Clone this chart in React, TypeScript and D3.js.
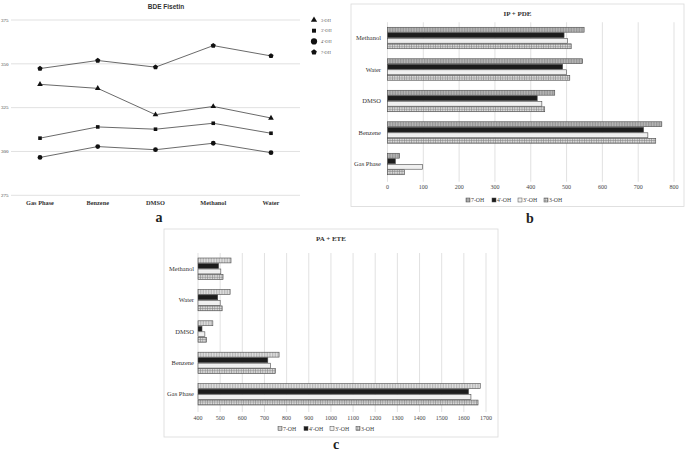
import React from "react";
import { scaleLinear, scalePoint, scaleBand, line, symbol, symbolTriangle, symbolSquare, symbolCircle } from "d3";

// panel a: BDE Fisetin
const bdeSolvents = ["Gas Phase", "Benzene", "DMSO", "Methanol", "Water"];
const bdeTicks = [275, 300, 325, 350, 375];
const bde3OH = [338.3, 336.0, 321.0, 325.7, 319.1];
const bde3pOH = [307.6, 314.0, 312.7, 316.1, 310.4];
const bde4pOH = [296.6, 302.8, 301.0, 304.7, 299.3];
const bde7OH = [347.3, 351.9, 348.1, 360.4, 354.5];

// panels b and c: bar charts
const barCats = ["Methanol", "Water", "DMSO", "Benzene", "Gas Phase"];
const barKeys = ["7-OH", "4'-OH", "3'-OH", "3-OH"];
const ipPde7OH = [549, 545, 467, 766, 34];
const ipPde4pOH = [493, 489, 418, 715, 22];
const ipPde3pOH = [503, 500, 431, 727, 98];
const ipPde3OH = [513, 509, 439, 749, 47];
const ipTicks = [0, 100, 200, 300, 400, 500, 600, 700, 800];

const paEte7OH = [549, 545, 467, 766, 1674];
const paEte4pOH = [493, 489, 418, 715, 1621];
const paEte3pOH = [503, 500, 431, 727, 1632];
const paEte3OH = [513, 509, 439, 749, 1664];
const paTicks = [400, 500, 600, 700, 800, 900, 1000, 1100, 1200, 1300, 1400, 1500, 1600, 1700];

const serif = "'Liberation Serif', 'DejaVu Serif', serif";
const sans = "'Liberation Sans', Arial, sans-serif";
const gridColor = "#d9d9d9";

const pentagon = (cx: number, cy: number, r: number) => {
  const pts: string[] = [];
  for (let i = 0; i < 5; i++) {
    const a = -Math.PI / 2 + (i * 2 * Math.PI) / 5;
    pts.push(`${cx + r * Math.cos(a)},${cy + r * Math.sin(a)}`);
  }
  return pts.join(" ");
};

const Marker = ({ kind, x, y, s = 1 }: any) => {
  if (kind === "pent") return <polygon points={pentagon(x, y, 2.7 * s)} fill="#111" />;
  const t = kind === "tri" ? symbolTriangle : kind === "sq" ? symbolSquare : symbolCircle;
  const size = kind === "tri" ? 14 : kind === "sq" ? 13 : 18;
  return <path d={symbol(t, size * s * s)() as string} transform={`translate(${x},${y})`} fill="#111" />;
};

const PanelA = () => {
  const x = scalePoint<string>().domain(bdeSolvents).range([40, 271]);
  const y = scaleLinear().domain([275, 375]).range([195.3, 20]);
  const series = [
    { key: "3-OH", vals: bde3OH, kind: "tri" },
    { key: "3'-OH", vals: bde3pOH, kind: "sq" },
    { key: "4'-OH", vals: bde4pOH, kind: "circ" },
    { key: "7-OH", vals: bde7OH, kind: "pent" },
  ];
  const ln = line<number>().x((_, i) => x(bdeSolvents[i]) as number).y((d) => y(d));
  return (
    <g>
      <text x={166} y={9} textAnchor="middle" fontFamily={sans} fontWeight="bold" fontSize={6.5} fill="#333">BDE Fisetin</text>
      {bdeTicks.map((t) => (
        <g key={t}>
          <line x1={11} x2={300} y1={y(t)} y2={y(t)} stroke={gridColor} strokeWidth={0.8} />
          <text x={8.5} y={y(t) + 1.8} textAnchor="end" fontFamily={serif} fontSize={5} fill="#444">{t}</text>
        </g>
      ))}
      {bdeSolvents.map((c) => (
        <text key={c} x={x(c)} y={204.5} textAnchor="middle" fontFamily={serif} fontWeight="bold" fontSize={6.3} fill="#333">{c}</text>
      ))}
      {series.map((s) => (
        <g key={s.key}>
          <path d={ln(s.vals) as string} fill="none" stroke="#444" strokeWidth={0.8} />
          {s.vals.map((v, i) => (
            <Marker key={i} kind={s.kind} x={x(bdeSolvents[i])} y={y(v)} />
          ))}
        </g>
      ))}
      {series.map((s, i) => (
        <g key={s.key}>
          <Marker kind={s.kind} x={314} y={20 + i * 10.7} s={s.kind === "circ" ? 1.3 : 1.1} />
          <text x={321} y={21.5 + i * 10.7} fontFamily={serif} fontSize={4.3} fill="#555">{s.key}</text>
        </g>
      ))}
      <text x={159} y={222} textAnchor="middle" fontFamily={serif} fontWeight="bold" fontSize={14} fill="#222">a</text>
    </g>
  );
};

const fills = (light: boolean) => [
  light ? "url(#p7light)" : "url(#p7dark)",
  "#1c1c1c",
  "url(#pdots)",
  "url(#pcheck)",
];

const BarPanel = ({ box, title, series, ticks, domain, xRange, yRange, labelX, tickY, legendY, legendX, letter, letterPos, light }: any) => {
  const x = scaleLinear().domain(domain).range(xRange);
  const y0 = scaleBand<string>().domain(barCats).range(yRange).paddingInner(0.3).paddingOuter(0.15);
  const y1 = scaleBand<string>().domain(barKeys).range([0, y0.bandwidth()]);
  const f = fills(light);
  const gridTop = yRange[0];
  const gridBot = yRange[1] + 2;
  return (
    <g>
      <rect x={box[0]} y={box[1]} width={box[2] - box[0]} height={box[3] - box[1]} fill="#fff" stroke={gridColor} strokeWidth={0.8} />
      <text x={(box[0] + box[2]) / 2} y={box[1] + 12} textAnchor="middle" fontFamily={serif} fontWeight="bold" fontSize={7} fill="#333">{title}</text>
      {ticks.map((t: number) => (
        <g key={t}>
          <line x1={x(t)} x2={x(t)} y1={gridTop} y2={gridBot} stroke={gridColor} strokeWidth={0.8} />
          <text x={x(t)} y={tickY} textAnchor="middle" fontFamily={serif} fontSize={6} fill="#444">{t}</text>
        </g>
      ))}
      {barCats.map((c, ci) => (
        <g key={c}>
          <text x={labelX} y={(y0(c) as number) + y0.bandwidth() / 2 + 2} textAnchor="end" fontFamily={serif} fontSize={6.5} fill="#333">{c}</text>
          {barKeys.map((k, ki) => (
            <rect key={k} x={x(domain[0])} y={(y0(c) as number) + (y1(k) as number) + 0.3}
              width={x(series[ki][ci]) - x(domain[0])} height={y1.bandwidth() - 0.6}
              fill={f[ki]} stroke="#4a4a4a" strokeWidth={0.6} />
          ))}
        </g>
      ))}
      {barKeys.map((k, ki) => (
        <g key={k} transform={`translate(${legendX + ki * 26},${legendY})`}>
          <rect x={0} y={-4} width={4} height={4} fill={f[ki]} stroke="#4a4a4a" strokeWidth={0.5} />
          <text x={5} y={0} fontFamily={serif} fontSize={5.8} fill="#444">{k}</text>
        </g>
      ))}
      <text x={letterPos[0]} y={letterPos[1]} textAnchor="middle" fontFamily={serif} fontWeight="bold" fontSize={14} fill="#222">{letter}</text>
    </g>
  );
};

export default function App() {
  return (
    <svg width={685} height={453} viewBox="0 0 685 453" style={{ display: "block", position: "absolute", left: 0, top: 0, background: "#fff" }}>
      <defs>
        <pattern id="p7dark" width={1.6} height={4} patternUnits="userSpaceOnUse">
          <rect width={1.6} height={4} fill="#b8b8b8" />
          <rect width={0.6} height={4} fill="#8a8a8a" />
        </pattern>
        <pattern id="p7light" width={1.6} height={4} patternUnits="userSpaceOnUse">
          <rect width={1.6} height={4} fill="#e2e2e2" />
          <rect width={0.6} height={4} fill="#a8a8a8" />
        </pattern>
        <pattern id="pdots" width={2} height={2} patternUnits="userSpaceOnUse">
          <rect width={2} height={2} fill="#fff" />
          <circle cx={1} cy={1} r={0.45} fill="#888" />
        </pattern>
        <pattern id="pcheck" width={2.4} height={2.4} patternUnits="userSpaceOnUse">
          <rect width={2.4} height={2.4} fill="#e4e4e4" />
          <path d="M0,1.2 L1.2,0 L2.4,1.2 L1.2,2.4 Z" fill="#8c8c8c" />
        </pattern>
      </defs>
      <PanelA />
      <BarPanel
        box={[351, 4, 684, 206.5]} title="IP + PDE"
        series={[ipPde7OH, ipPde4pOH, ipPde3pOH, ipPde3OH]}
        ticks={ipTicks} domain={[0, 800]} xRange={[387.5, 674]} yRange={[22.25, 179.75]}
        labelX={381} tickY={189} legendY={202} legendX={466} letter="b" letterPos={[530, 223]} light={false}
      />
      <BarPanel
        box={[164, 229, 498, 437]} title="PA + ETE"
        series={[paEte7OH, paEte4pOH, paEte3pOH, paEte3OH]}
        ticks={paTicks} domain={[400, 1700]} xRange={[198, 486]} yRange={[253, 410]}
        labelX={194} tickY={419.5} legendY={430.5} legendX={278} letter="c" letterPos={[336, 449]} light={true}
      />
    </svg>
  );
}
